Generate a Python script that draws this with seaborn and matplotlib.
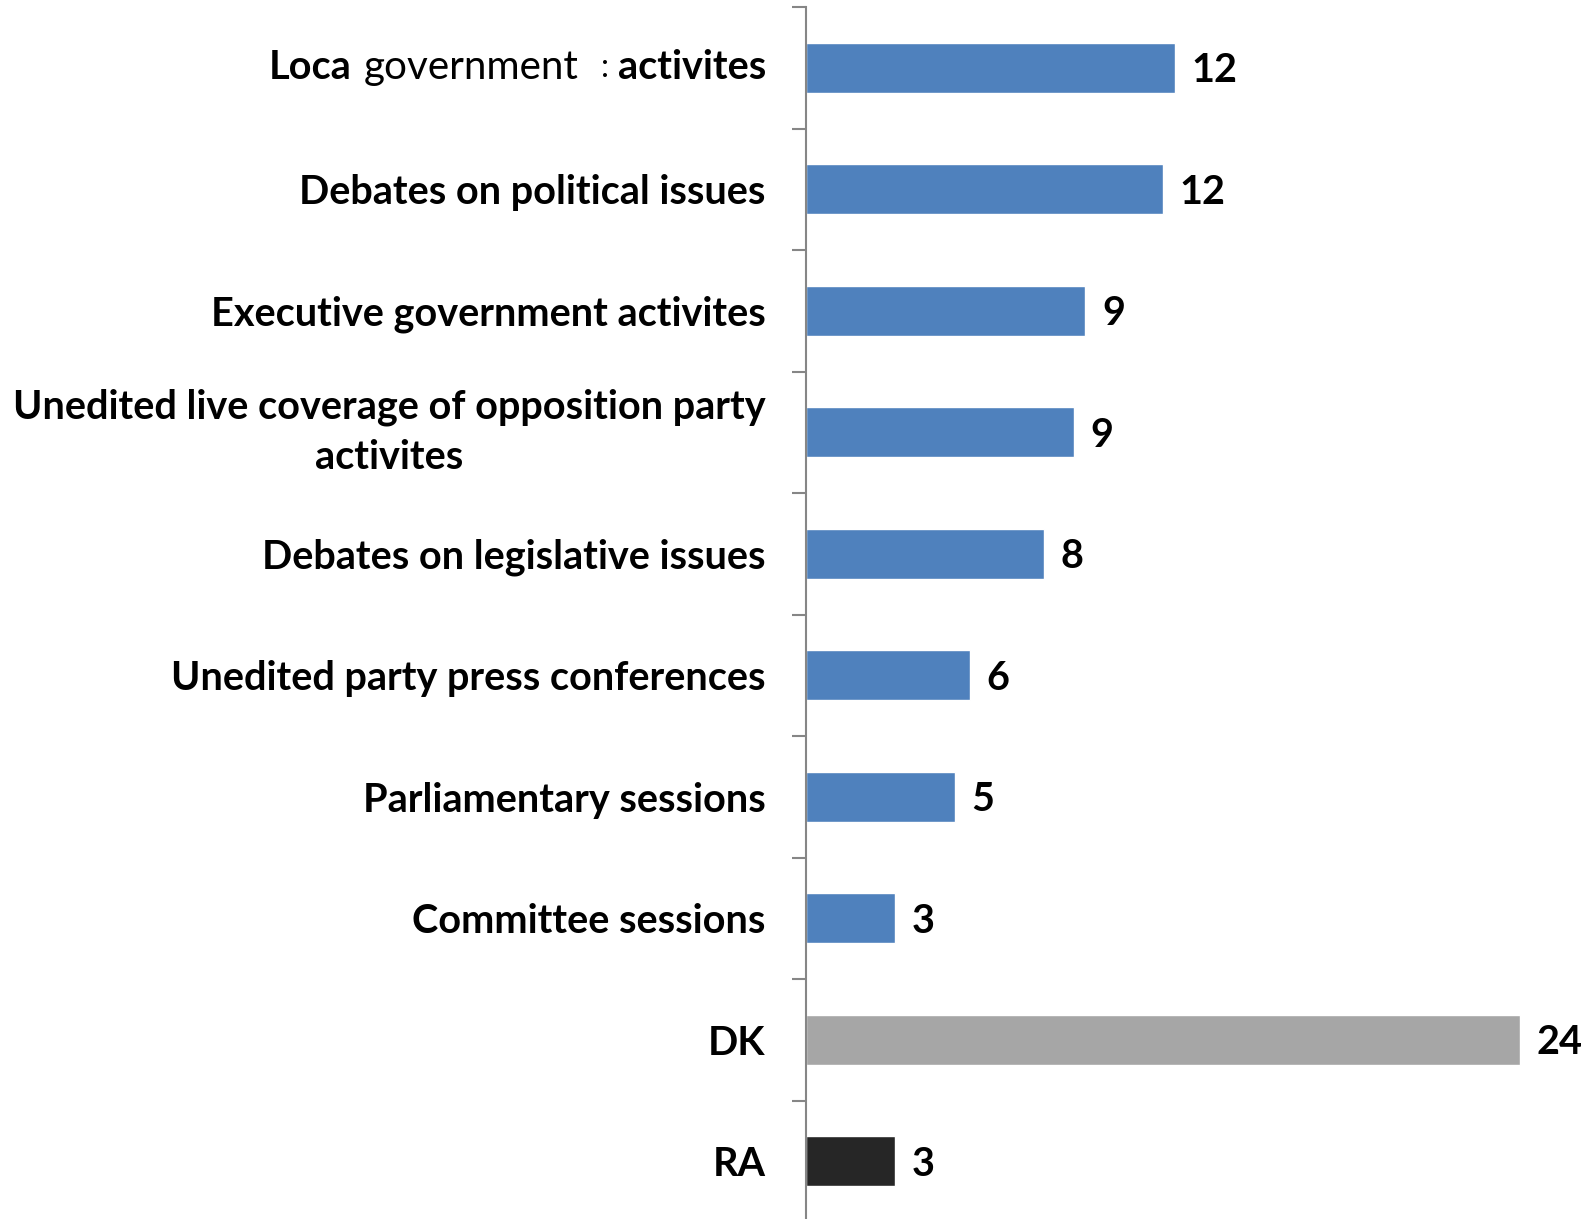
import numpy as np
import pandas as pd
import seaborn as sns
import matplotlib.pyplot as plt

# Data
categories = [
    'Local government activites',
    'Debates on political issues',
    'Executive government activites',
    'Unedited live coverage of opposition party\nactivites',
    'Debates on legislative issues',
    'Unedited party press conferences',
    'Parliamentary sessions',
    'Committee sessions',
    'DK',
    'RA',
]
values = [12.4, 12.0, 9.4, 9.0, 8.0, 5.5, 5.0, 3.0, 24.0, 3.0]
colors = ['#4F81BD'] * 8 + ['#A6A6A6', '#262626']

df = pd.DataFrame({'category': categories, 'value': values})

sns.set_theme(style='white')
plt.rcParams['font.family'] = ['Lato', 'DejaVu Sans']
FS = 28.5
AXIS_GRAY = '#868686'

fig = plt.figure(figsize=(15.87, 12.19), dpi=100)
ax = fig.add_axes([806 / 1587, -3 / 1219, (1579 - 806) / 1587, 1215 / 1219])

sns.barplot(data=df, x='value', y='category', hue='category',
            palette=dict(zip(categories, colors)), orient='h',
            width=0.41, saturation=1, legend=False, ax=ax)

ax.set_xlim(0, 26)
ax.set_ylim(len(categories) - 0.5, -0.5)
ax.set_xlabel('')
ax.set_ylabel('')
ax.set_xticks([])

# value labels
for i, v in enumerate(values):
    ax.annotate(f'{v:.0f}', xy=(v, i), xytext=(12, -2), textcoords='offset points',
                ha='left', va='center', fontsize=FS, fontweight='bold', color='black')

# category labels; the first one is drawn piece by piece below
labels = [''] + categories[1:]
ax.set_yticks(range(len(categories)))
ax.set_yticklabels(labels, fontsize=FS, fontweight='bold', color='black',
                   multialignment='center', linespacing=1.45)
for lab in ax.get_yticklabels():
    if '\n' in lab.get_text():
        lab.set_va('center')
ax.tick_params(axis='y', which='major', left=True, length=0, pad=29)
ax.set_yticks(np.arange(-0.5, len(categories), 1), minor=True)
ax.tick_params(axis='y', which='minor', left=True, length=10, width=1.5,
               color=AXIS_GRAY)

for side in ['top', 'right', 'bottom']:
    ax.spines[side].set_visible(False)
ax.spines['left'].set_color(AXIS_GRAY)
ax.spines['left'].set_linewidth(1.5)

# first label: mixed weights as in the original
fig.canvas.draw()
renderer = fig.canvas.get_renderer()
pieces = [('activites', 'bold', FS, 0), (':', 'normal', FS * 0.8, 9),
          ('government', 'normal', FS * 1.02, 22), ('Loca', 'bold', FS, 12)]
x_right = 806 - 40
ycen = ax.transData.transform((0, 0))[1]
for txt, weight, size, gap in pieces:
    x_right -= gap
    t = fig.text(x_right / 1587, ycen / 1219, txt, ha='right', va='center',
                 fontsize=size, fontweight=weight, color='black')
    bb = t.get_window_extent(renderer)
    x_right = bb.x0

fig.savefig('out.png', dpi=100)
